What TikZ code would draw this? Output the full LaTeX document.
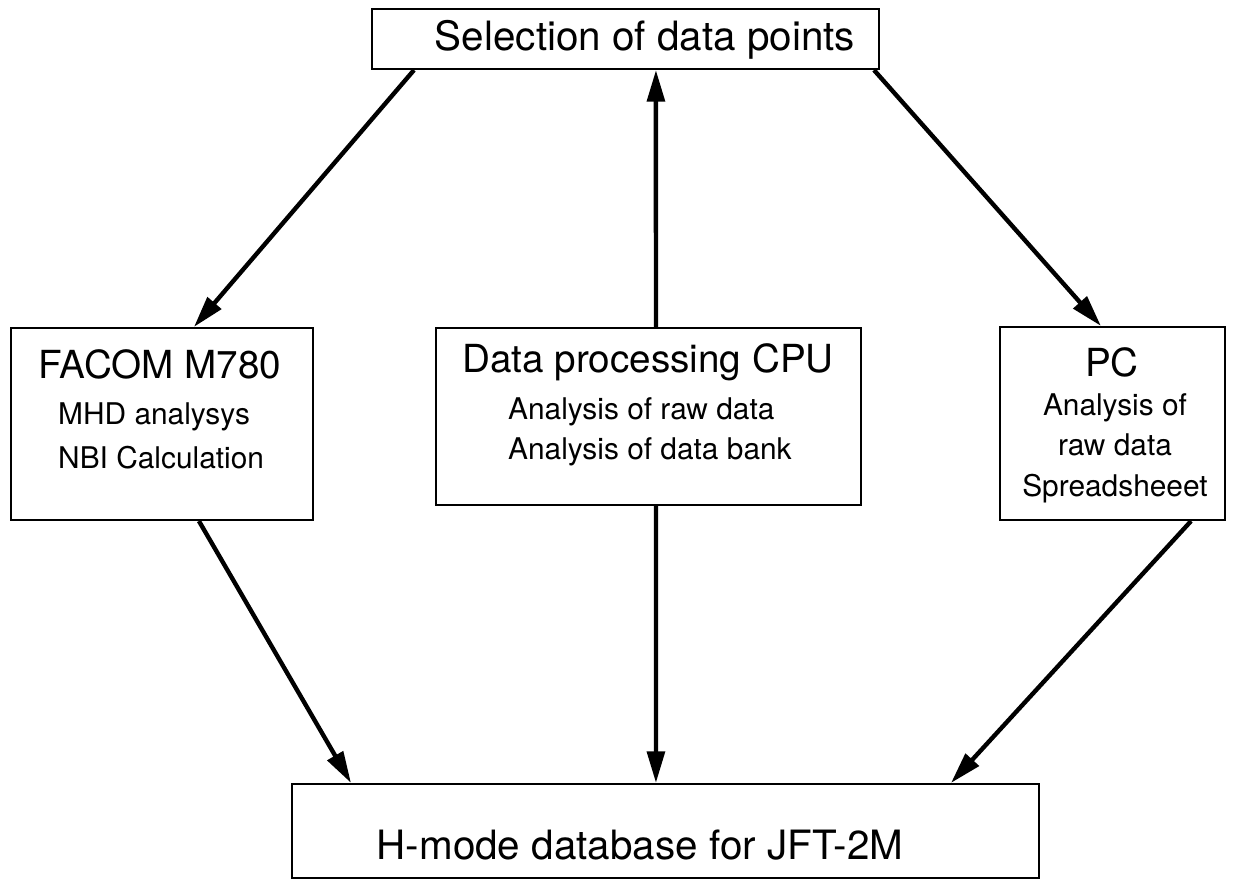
\documentclass[tikz,border=0pt]{standalone}
\usepackage{fontspec}
\setmainfont{TeX Gyre Heros}
\usetikzlibrary{arrows.meta}

\begin{document}
\begin{tikzpicture}[x=0.02cm,y=-0.02cm,
	box/.style={draw,line width=1.2pt,inner sep=0pt},
	big/.style={font=\fontsize{22}{26}\selectfont},
	small/.style={font=\fontsize{17}{23}\selectfont},
	link/.style={line width=2.5pt,-{Triangle[length=18pt,width=10pt]}}]
	\useasboundingbox (0,0) rectangle (1249,880);
	% boxes
	\node[box,minimum width=10.14cm,minimum height=1.2cm] (sel) at (625.5,39) {};
	\node[box,minimum width=6.04cm,minimum height=3.84cm] (facom) at (162,424) {};
	\node[box,minimum width=8.5cm,minimum height=3.54cm] (cpu) at (648.5,416.5) {};
	\node[box,minimum width=4.5cm,minimum height=3.86cm] (pc) at (1112.5,423.5) {};
	\node[box,minimum width=14.94cm,minimum height=1.88cm] (hdb) at (665.5,831) {};
	%
	\node[big,font=\fontsize{23}{27}\selectfont] (selT) at (645,40) {Selection of data points};
	\node[big] (facomT) at (160,364) {FACOM M780};
	\node[small,anchor=west] (mhd) at (52,417) {MHD analysys};
	\node[small,anchor=west] (nbi) at (52,458) {NBI Calculation};
	\node[big] (cpuT) at (648,362) {Data processing CPU};
	\node[small,anchor=west] (raw) at (502,412) {Analysis of raw data};
	\node[small,anchor=west] (bank) at (502,452) {Analysis of data bank};
	\node[big] (pcT) at (1112,362) {PC};
	\node[small,align=center] (pcL) at (1115,448) {Analysis of\\raw data\\Spreadsheeet};
	\node[big,font=\fontsize{23}{27}\selectfont] (hdbT) at (640,845) {H-mode database for JFT-2M};
	%
	\path[link]
		([xshift=0.86cm]sel.south west) edge ([xshift=3.68cm]facom.north west)
		([xshift=5.7cm]sel.south west) edge[{Triangle[length=18pt,width=10pt]}-] ([xshift=4.42cm]cpu.north west)
		([xshift=-0.12cm]sel.south east) edge ([xshift=2.04cm]pc.north west)
		([xshift=3.78cm]facom.south west) edge ([xshift=1.2cm]hdb.north west)
		([xshift=4.42cm]cpu.south west) edge ([xshift=7.3cm]hdb.north west)
		([xshift=-0.7cm]pc.south east) edge ([xshift=-1.78cm]hdb.north east);
\end{tikzpicture}
\end{document}
